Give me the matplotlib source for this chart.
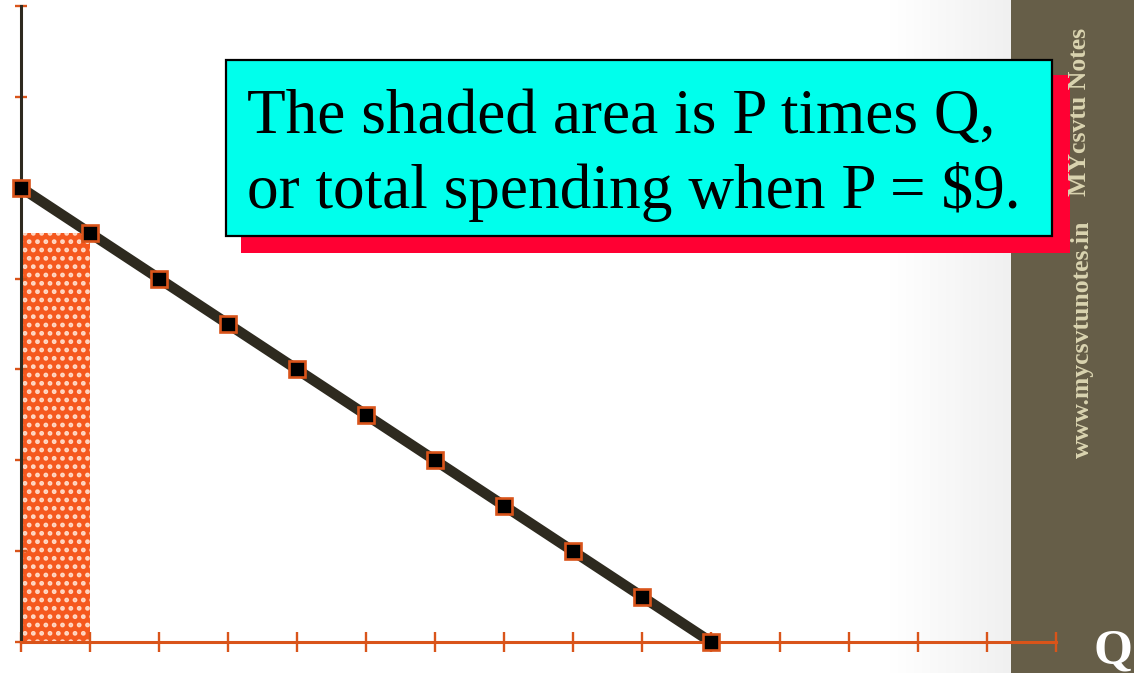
import numpy as np
import matplotlib
matplotlib.use("Agg")
import matplotlib.pyplot as plt
from matplotlib.patches import Rectangle
from matplotlib.colors import LinearSegmentedColormap

# Demand schedule: price falls $1 for each extra unit
quantity = [0, 1, 2, 3, 4, 5, 6, 7, 8, 9, 10]
price = [10, 9, 8, 7, 6, 5, 4, 3, 2, 1, 0]
x_ticks = list(range(0, 16))
y_ticks = list(range(0, 15, 2))

# Point used for the total-spending rectangle
spend_q = 1
spend_p = 9

caption_1 = "The shaded area is P times Q,"
caption_2 = "or total spending when P = $9."
side_title = "MYcsvtu Notes"
side_url = "www.mycsvtunotes.in"
axis_q = "Q"

W, H = 1134, 673
SERIF = ["Liberation Serif", "DejaVu Serif"]
plt.rcParams["hatch.linewidth"] = 2.2

fig = plt.figure(figsize=(W / 100, H / 100), dpi=100)
fig.patch.set_facecolor("white")


def box(x0, y0, x1, y1):
    """Pixel box (top-left origin) -> figure-fraction rectangle."""
    return (x0 / W, 1 - y1 / H), (x1 - x0) / W, (y1 - y0) / H


# light fade towards the side band
gax = fig.add_axes([890 / W, 0, (1011 - 890) / W, 1], zorder=0)
gax.imshow(np.linspace(0, 1, 256)[None, :], aspect="auto",
           cmap=LinearSegmentedColormap.from_list("fade", ["#FFFFFF", "#F0F0F0"]))
gax.axis("off")

# dark side band
band_ax = fig.add_axes([1011 / W, 0, (W - 1011) / W, 1], zorder=0.5)
band_ax.set_facecolor("#665E48")
band_ax.set_xticks([]); band_ax.set_yticks([])
for s in band_ax.spines.values():
    s.set_visible(False)

# main demand-curve axes
ax = fig.add_axes([21 / W, 1 - 642 / H, (1056 - 21) / W, (642 - 6) / H], zorder=2)
ax.set_facecolor("none")
ax.set_xlim(0, 15)
ax.set_ylim(0, 14)
for s in ("top", "right"):
    ax.spines[s].set_visible(False)
ax.spines["left"].set_color("#2E2A1F")
ax.spines["left"].set_linewidth(2.2)
ax.spines["bottom"].set_color("#D9541A")
ax.spines["bottom"].set_linewidth(2.2)
ax.spines["bottom"].set_zorder(5)
ax.set_xticks(x_ticks)
ax.set_yticks(y_ticks)
ax.set_xticklabels([])
ax.set_yticklabels([])
ax.tick_params(axis="x", direction="inout", length=15, width=1.7, color="#D9541A")
ax.tick_params(axis="y", direction="inout", length=8.5, width=1.7, color="#D9541A")

# total spending rectangle
ax.bar([0], [spend_p], width=spend_q, align="edge", color="#F5581E",
       edgecolor="#FFD9C6", linewidth=0, hatch="..", zorder=1)

# demand curve
ax.plot(quantity, price, color="#2E2A1F", lw=7.5, solid_capstyle="butt",
        zorder=3, clip_on=False)
ax.plot(quantity, price, ls="none", marker="s", ms=11, mfc="black",
        mec="#D9541A", mew=1.9, zorder=6, clip_on=False)

# caption box with drop shadow
xy, w, h = box(241, 75, 1070, 253)
fig.add_artist(Rectangle(xy, w, h, transform=fig.transFigure, facecolor="#FF0033",
                         edgecolor="none", zorder=10))
xy, w, h = box(226, 60, 1052, 236)
fig.add_artist(Rectangle(xy, w, h, transform=fig.transFigure, facecolor="#00FFEC",
                         edgecolor="black", linewidth=1.6, zorder=11))
fig.text(247 / W, 1 - 133 / H, caption_1, fontsize=45.5, family=SERIF,
         va="baseline", ha="left", zorder=12)
fig.text(247 / W, 1 - 208 / H, caption_2, fontsize=45.5, family=SERIF,
         va="baseline", ha="left", zorder=12)

# side band lettering
fig.text(1080 / W, 1 - 112 / H, side_title, rotation=90, fontsize=18.5,
         family=SERIF, weight="bold", color="#DAD4B0", ha="center", va="center",
         zorder=13)
fig.text(1082 / W, 1 - 339 / H, side_url, rotation=90, fontsize=18.5,
         family=SERIF, weight="bold", color="#DAD4B0", ha="center", va="center",
         zorder=13)
fig.text(1094 / W, 1 - 664 / H, axis_q, fontsize=36, family=SERIF,
         weight="bold", color="white", ha="left", va="baseline", zorder=13)

fig.savefig("out.png", dpi=100)
